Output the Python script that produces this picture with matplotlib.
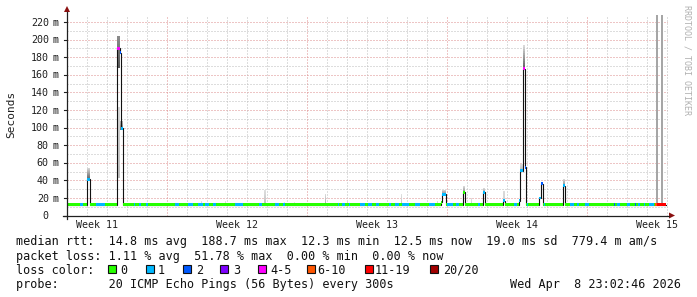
import numpy as np
import matplotlib
matplotlib.use("Agg")
import matplotlib.pyplot as plt
from matplotlib.lines import Line2D
from matplotlib.patches import Polygon, Rectangle
import matplotlib.transforms as mtransforms

W, H, DPI = 697, 297, 100

# ---------------- data ----------------
# time axis in days from the left edge of the 30-day window
week_labels = ["Week 11", "Week 12", "Week 13", "Week 14", "Week 15"]
week_label_days = [1.5, 8.5, 15.5, 22.5, 29.5]
week_grid_days = [5, 12, 19, 26]
data_end_day = 29.95
base_median_ms = 12.3
ytick_values = [0, 20, 40, 60, 80, 100, 120, 140, 160, 180, 200, 220]

loss_buckets = ["0", "1", "2", "3", "4-5", "6-10", "11-19", "20/20"]
loss_colors = ["#26ff00", "#00b8ff", "#0059ff", "#7e00ff", "#ff00ff",
               "#ff5500", "#ff0000", "#a10000"]

# loss on the baseline: (start_day, end_day, bucket index)
baseline_loss = [
    (0.665, 0.785, 1), (1.45, 1.885, 1), (3.335, 3.415, 1), (3.6, 3.7, 1),
    (3.95, 4.05, 1), (5.4, 5.6, 1), (6.05, 6.3, 1), (6.55, 6.8, 1),
    (6.9, 7.1, 1), (7.3, 7.45, 1), (8.4, 8.8, 1), (9.6, 9.75, 1),
    (10.4, 10.6, 1), (10.8, 10.9, 1), (13.55, 13.6, 1), (13.75, 13.9, 1),
    (14.1, 14.15, 1), (14.65, 14.9, 1), (15.05, 15.25, 1), (15.45, 15.6, 1),
    (16.1, 16.2, 1), (16.4, 16.6, 1), (16.75, 17.1, 1), (17.4, 17.65, 1),
    (18.1, 18.4, 1), (19.0, 19.3, 1), (19.45, 19.6, 1), (20.55, 20.65, 1),
    (22.35, 22.5, 1), (23.0, 23.05, 1), (23.85, 23.9, 1), (25.15, 25.35, 1),
    (25.5, 25.6, 1), (25.9, 26.1, 1), (27.35, 27.4, 2), (27.5, 27.65, 1),
    (28.0, 28.15, 1), (28.4, 28.45, 2), (28.55, 28.65, 1), (28.85, 28.9, 1),
    (29.1, 29.35, 1), (29.4, 29.5, 5), (29.5, 29.95, 6),
]

# median excursions: (start_day, end_day, median_ms, bucket index)
median_events = [
    (1.0, 1.13, 41, 1),
    (2.515, 2.625, 190, 4), (2.625, 2.70, 185, 2), (2.70, 2.78, 99, 1),
    (18.70, 18.765, 15, 0), (18.765, 18.935, 24, 1),
    (19.785, 19.90, 26.5, 0),
    (20.775, 20.875, 26.5, 1),
    (21.785, 21.90, 17, 1),
    (22.60, 22.65, 17, 1), (22.65, 22.775, 51, 1), (22.775, 22.875, 167, 4),
    (22.875, 22.94, 55, 2),
    (23.60, 23.675, 20, 1), (23.675, 23.795, 36, 2),
    (24.775, 24.90, 34, 1),
]

# ping spread (smoke): (start_day, end_day, low_ms, high_ms)
smoke_events = [
    (1.0, 1.13, 41, 54),
    (2.515, 2.65, 168, 204), (2.56, 2.65, 43, 123), (2.63, 2.67, 12.3, 228),
    (2.66, 2.78, 97, 108),
    (18.765, 18.935, 24, 29), (19.785, 19.9, 26.5, 33), (20.775, 20.875, 26.5, 31),
    (21.8, 21.9, 17, 28), (22.65, 22.775, 51, 58), (22.775, 22.875, 167, 194),
    (23.675, 23.795, 36, 38), (24.775, 24.9, 34, 41),
    (9.85, 9.95, 12.3, 29), (12.88, 12.95, 12.3, 25), (13.98, 14.05, 12.3, 18),
    (16.68, 16.75, 12.3, 24), (18.48, 18.55, 12.3, 17), (20.2, 20.27, 12.3, 20),
    (6.7, 6.75, 12.3, 16), (7.9, 7.95, 12.3, 16), (10.85, 10.9, 12.3, 15),
    (11.35, 11.4, 12.3, 15),
    (29.45, 29.55, 12.3, 228), (29.7, 29.8, 12.3, 228),
]
# gray level at bottom / top of each smoke event
smoke_shade = [
    (0.35, 0.85),
    (0.35, 0.55), (0.75, 0.85), (0.86, 0.86), (0.45, 0.75),
    (0.5, 0.85), (0.55, 0.85), (0.6, 0.85), (0.82, 0.86), (0.7, 0.85),
    (0.35, 0.87), (0.5, 0.8), (0.5, 0.85),
    (0.75, 0.88), (0.65, 0.88), (0.78, 0.88), (0.75, 0.88), (0.8, 0.88),
    (0.8, 0.88), (0.82, 0.88), (0.82, 0.88), (0.85, 0.9), (0.85, 0.9),
    (0.65, 0.65), (0.65, 0.65),
]

stats_rtt = "median rtt:  14.8 ms avg  188.7 ms max  12.3 ms min  12.5 ms now  19.0 ms sd  779.4 m am/s"
stats_loss = "packet loss: 1.11 % avg  51.78 % max  0.00 % min  0.00 % now"
probe_text = "probe:       20 ICMP Echo Pings (56 Bytes) every 300s"
date_text = "Wed Apr  8 23:02:46 2026"

# ---------------- figure ----------------
MONO = "DejaVu Sans Mono"
fig = plt.figure(figsize=(W / DPI, H / DPI), dpi=DPI)
fig.patch.set_facecolor("white")


def fx(px):
    return px / W


def fy(py):
    return 1 - py / H


ax_left, ax_right, ax_bottom, ax_top = 67, 668, 215.5, 15
ax = fig.add_axes([fx(ax_left), fy(ax_bottom), (ax_right - ax_left) / W,
                   (ax_bottom - ax_top) / H])
ax.set_xlim(0, 30.05)
ax.set_ylim(0, 228)
ax.set_axis_off()

# grid (dotted)
for v in range(10, 230, 10):
    major = v % 20 == 0
    ax.axhline(v, color="#dc8c8c" if major else "#bdbdbd", lw=0.72,
               dashes=(1, 2), zorder=0.5)
for d in range(1, 31):
    major = d in week_grid_days
    ax.axvline(d, color="#dc8c8c" if major else "#bdbdbd", lw=0.72,
               dashes=(1, 2), zorder=0.5)

# smoke
for (t0, t1, lo, hi), (c0, c1) in zip(smoke_events, smoke_shade):
    n = 12
    edges = np.linspace(lo, hi, n + 1)
    for i in range(n):
        g = c0 + (c1 - c0) * (i + 0.5) / n
        ax.bar(t0, edges[i + 1] - edges[i], width=t1 - t0, bottom=edges[i],
               align="edge", color=(g, g, g), linewidth=0, zorder=1)

# median step function built from the baseline, loss and events
bps = {0.0, data_end_day}
for t0, t1, _ in baseline_loss:
    bps.update([t0, t1])
for t0, t1, _, _ in median_events:
    bps.update([t0, t1])
bps = sorted(b for b in bps if 0 <= b <= data_end_day)

segs = []
for a, b in zip(bps[:-1], bps[1:]):
    mid = 0.5 * (a + b)
    med, loss = base_median_ms, 0
    for t0, t1, l in baseline_loss:
        if t0 <= mid < t1:
            loss = l
    for t0, t1, m, l in median_events:
        if t0 <= mid < t1:
            med, loss = m, l
    segs.append((a, b, med, loss))

xs, ys = [], []
for a, b, m, l in segs:
    xs += [a, b]
    ys += [m, m]
ax.plot(xs, ys, color="#111111", lw=0.8, zorder=2, solid_joinstyle="miter")

band = 3.2
for a, b, m, l in segs:
    ax.bar(a, band, width=b - a, bottom=m - band / 2, align="edge",
           color=loss_colors[l], linewidth=0, zorder=3)

# axes lines and arrows
axis_col = "#202020"
arrow_col = "#8b1010"
fig.add_artist(Line2D([fx(63), fx(669)], [fy(215.5), fy(215.5)],
                      transform=fig.transFigure, color=axis_col, lw=0.9))
fig.add_artist(Line2D([fx(67), fx(67)], [fy(219), fy(12)],
                      transform=fig.transFigure, color=axis_col, lw=0.9))
fig.add_artist(Polygon([(fx(669), fy(212.5)), (fx(675), fy(215.5)), (fx(669), fy(218.5))],
                       closed=True, transform=fig.transFigure, color=arrow_col, lw=0))
fig.add_artist(Polygon([(fx(64), fy(12)), (fx(67), fy(6)), (fx(70), fy(12))],
                       closed=True, transform=fig.transFigure, color=arrow_col, lw=0))

# y tick labels (number right aligned, unit after)
ytrans = mtransforms.blended_transform_factory(fig.transFigure, ax.transData) + \
    mtransforms.ScaledTranslation(0, -3.6 / DPI, fig.dpi_scale_trans)
tick_trans = mtransforms.blended_transform_factory(fig.transFigure, ax.transData)
for v in ytick_values:
    fig.text(fx(48.8), v, f"{v}", transform=ytrans, ha="right", va="baseline",
             family=MONO, fontsize=7.2, color="#202020")
    if v != 0:
        fig.text(fx(52.5), v, "m", transform=ytrans, ha="left", va="baseline",
                 family=MONO, fontsize=7.2, color="#202020")
    fig.add_artist(Line2D([fx(63.5), fx(67)], [v, v], transform=tick_trans,
                          color=axis_col, lw=0.8))

# week labels
xtrans = mtransforms.blended_transform_factory(ax.transData, fig.transFigure)
for lab, d in zip(week_labels, week_label_days):
    fig.text(d, fy(228.5), lab, transform=xtrans, ha="center", va="baseline",
             family=MONO, fontsize=7.2, color="#202020")

fig.text(fx(11), fy(114), "Seconds", rotation=90, ha="center", va="center",
         family=MONO, fontsize=8, color="#202020")
fig.text(fx(687), fy(5), "RRDTOOL / TOBI OETIKER", rotation=270, ha="center",
         va="top", family=MONO, fontsize=6, color="#b0b0b0")

# legend rows
LFS = 8.5
fig.text(fx(16), fy(245.3), stats_rtt, family=MONO, fontsize=LFS, va="baseline",
         color="#111111")
fig.text(fx(16), fy(259.6), stats_loss, family=MONO, fontsize=LFS, va="baseline",
         color="#111111")
fig.text(fx(16), fy(273.9), "loss color:", family=MONO, fontsize=LFS, va="baseline",
         color="#111111")
square_x = [108, 146, 183, 220, 258, 307, 365, 430]
label_x = [120.5, 157.5, 196, 233.5, 270.5, 317, 374.5, 443.5]
for sx, lx, lab, col in zip(square_x, label_x, loss_buckets, loss_colors):
    fig.add_artist(Rectangle((fx(sx), fy(273)), 8 / W, 8 / H, transform=fig.transFigure,
                             facecolor=col, edgecolor="#111111", lw=0.8))
    fig.text(fx(lx), fy(273.9), lab, family=MONO, fontsize=LFS, va="baseline",
             color="#111111")
fig.text(fx(16), fy(288.2), probe_text, family=MONO, fontsize=LFS, va="baseline",
         color="#111111")
fig.text(fx(681), fy(288.2), date_text, family=MONO, fontsize=LFS, va="baseline",
         ha="right", color="#111111")

fig.savefig("out.png", dpi=DPI, facecolor="white")
